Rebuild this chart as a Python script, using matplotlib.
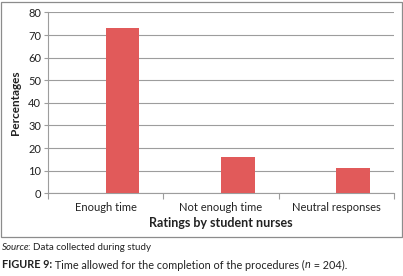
import matplotlib
matplotlib.use('Agg')
import matplotlib.pyplot as plt
from matplotlib.patches import Rectangle

plt.rcParams['font.family'] = ['Lato', 'DejaVu Sans']

# ── data ────────────────────────────────────────────────────────────────
categories = ['Enough time', 'Not enough time', 'Neutral responses']
percentages = [73, 16, 11]
y_ticks = [0, 10, 20, 30, 40, 50, 60, 70, 80]

BAR_COLOR = '#e15a5a'
GRID_COLOR = '#9d9d9d'
TEXT_COLOR = '#222222'

fig = plt.figure(figsize=(4.03, 2.76), dpi=100)
ax = fig.add_axes([0.119, 0.300, 0.859, 0.655])

# outer chart frame
fig.patches.append(Rectangle((1 / 403, 1 - 237 / 276), 401 / 403, 235 / 276,
                             transform=fig.transFigure, fill=False,
                             edgecolor='#8c8c8c', linewidth=0.9))

x = list(range(len(categories)))
ax.bar(x, percentages, width=0.29, align='edge', color=BAR_COLOR, zorder=3)

ax.set_xlim(-0.5, len(categories) - 0.5)
ax.set_ylim(0, 80)
ax.set_yticks(y_ticks)
ax.yaxis.grid(True, color=GRID_COLOR, linewidth=0.8, zorder=0)

ax.set_xticks(x)
ax.set_xticklabels(categories, fontsize=8, color=TEXT_COLOR)
ax.set_xticks([i - 0.5 for i in range(len(categories) + 1)], minor=True)
ax.tick_params(axis='x', which='major', length=0, pad=6)
ax.tick_params(axis='x', which='minor', length=4, color=GRID_COLOR, width=0.8)
ax.tick_params(axis='y', length=3, color=GRID_COLOR, width=0.8,
               labelsize=8, labelcolor=TEXT_COLOR, pad=2)

for side in ['top', 'right']:
    ax.spines[side].set_visible(False)
for side in ['left', 'bottom']:
    ax.spines[side].set_color(GRID_COLOR)
    ax.spines[side].set_linewidth(0.8)

ax.set_ylabel('Percentages', fontsize=8.5, fontweight='bold', color=TEXT_COLOR, labelpad=5)
ax.set_xlabel('Ratings by student nurses', fontsize=9, fontweight='bold',
              color=TEXT_COLOR, labelpad=3)

# ── captions ─────────────────────────────────────────────────────────────
t1 = fig.text(2 / 403, 1 - 248 / 276, 'Source', fontsize=7, style='italic',
              color=TEXT_COLOR, va='center')
ax.annotate(': Data collected during study', xy=(1, 0.5), xycoords=t1,
            xytext=(-0.8, 0), textcoords='offset points',
            va='center', fontsize=7, color=TEXT_COLOR)

t2 = fig.text(2 / 403, 1 - 265 / 276, 'FIGURE 9:', fontsize=7.8, fontweight='bold',
              color=TEXT_COLOR, va='center')
t3 = ax.annotate(' Time allowed for the completion of the procedures (', xy=(1, 0.5),
                 xycoords=t2, va='center', fontsize=7.8, color=TEXT_COLOR)
t4 = ax.annotate('n', xy=(1, 0.5), xycoords=t3, va='center', fontsize=7.8,
                 style='italic', color=TEXT_COLOR)
ax.annotate(' = 204).', xy=(1, 0.5), xycoords=t4, va='center', fontsize=7.8,
            color=TEXT_COLOR)

fig.savefig('out.png', dpi=100)
